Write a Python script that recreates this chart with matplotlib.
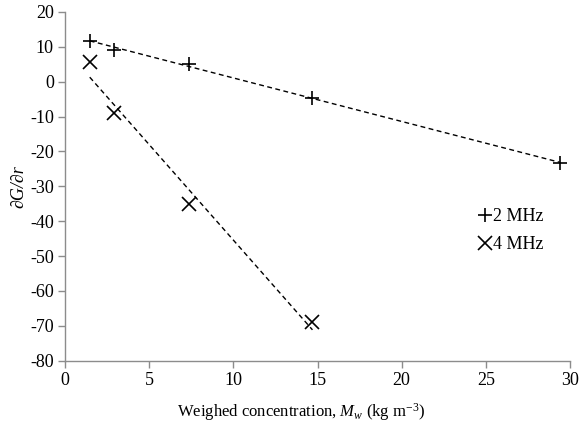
import numpy as np
import matplotlib
matplotlib.use("Agg")
import matplotlib.pyplot as plt

plt.rcParams['font.family'] = ['Liberation Serif', 'DejaVu Serif']
plt.rcParams['mathtext.fontset'] = 'custom'
plt.rcParams['mathtext.rm'] = 'Liberation Serif'
plt.rcParams['mathtext.it'] = 'Liberation Serif:italic'
plt.rcParams['axes.unicode_minus'] = False

# Weighed concentration (kg m^-3)
mw_2mhz = [1.47, 2.94, 7.35, 14.7, 29.4]
dgdr_2mhz = [11.8, 9.2, 5.0, -4.6, -23.3]

mw_4mhz = [1.47, 2.94, 7.35, 14.7]
dgdr_4mhz = [5.6, -8.9, -35.2, -69.0]

x_ticks = [0, 5, 10, 15, 20, 25, 30]
y_ticks = [-80, -70, -60, -50, -40, -30, -20, -10, 0, 10, 20]

axis_grey = '#8c8c8c'

fig = plt.figure(figsize=(5.83, 4.22), dpi=100)
ax = fig.add_axes([0.1115, 0.1453, 0.8662, 0.8263])

# linear trend lines over each data range
for xs, ys in [(mw_2mhz, dgdr_2mhz), (mw_4mhz, dgdr_4mhz)]:
    k, b = np.polyfit(xs, ys, 1)
    xr = np.array([min(xs), max(xs)])
    ax.plot(xr, k * xr + b, color='black', lw=1.0, ls=(0, (3.5, 2.5)))

ax.plot(mw_2mhz, dgdr_2mhz, ls='none', marker='+', ms=10, mew=1.2,
        color='black', label='2 MHz')
ax.plot(mw_4mhz, dgdr_4mhz, ls='none', marker='x', ms=10, mew=1.2,
        color='black', label='4 MHz')

ax.set_xlim(0, 30)
ax.set_ylim(-80, 20)
ax.set_xticks(x_ticks)
ax.set_yticks(y_ticks)

for s in ['top', 'right']:
    ax.spines[s].set_visible(False)
for s in ['left', 'bottom']:
    ax.spines[s].set_color(axis_grey)
    ax.spines[s].set_linewidth(1.0)
ax.tick_params(direction='out', length=5, width=1.0, color=axis_grey,
               labelsize=13, labelcolor='black', pad=3)

ax.set_xlabel('Weighed concentration, $M_w$ (kg m$^{-3}$)', fontsize=12)
ax.xaxis.set_label_coords(0.467, -0.115)
ax.set_ylabel('\u2202G/\u2202r', fontsize=13, style='italic', labelpad=2)

ax.legend(loc='center left', bbox_to_anchor=(0.80, 0.373), frameon=False,
          fontsize=13, handlelength=0.8, handletextpad=0.05, labelspacing=0.6,
          borderpad=0)

fig.savefig('out.png', dpi=100)
